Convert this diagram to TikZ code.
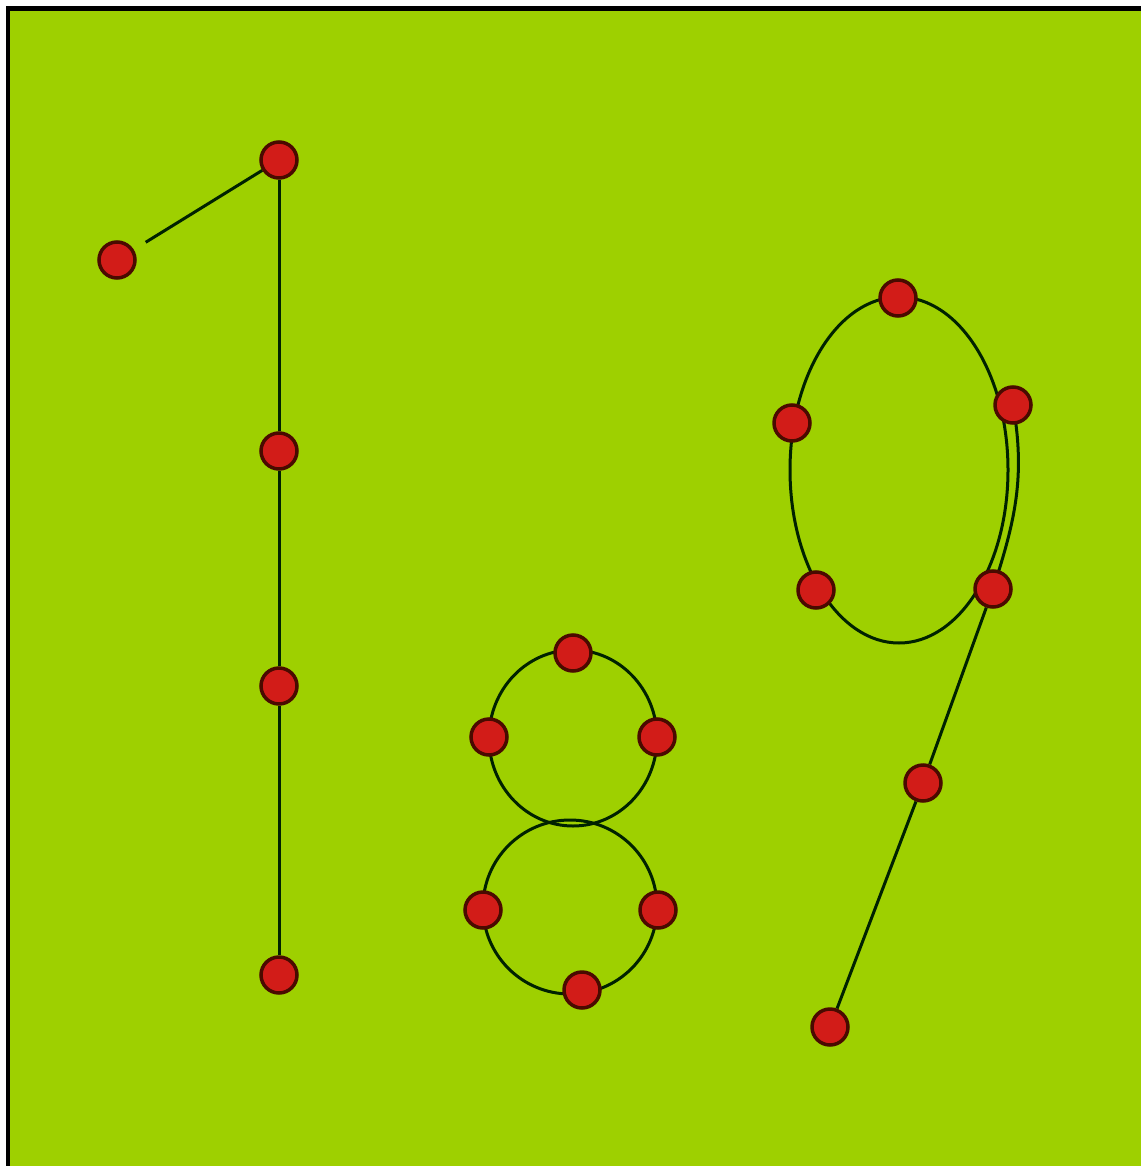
\documentclass[tikz,border=0pt]{standalone}
\definecolor{bggreen}{HTML}{9ED000}
\definecolor{inkline}{HTML}{002200}
\definecolor{dotred}{HTML}{D21C18}
\definecolor{dotrim}{HTML}{4A0A00}
\pgfdeclarelayer{bg}
\pgfdeclarelayer{lines}
\pgfsetlayers{bg,lines,main}
\tikzset{
  dot/.style={circle, fill=dotred, draw=dotrim, line width=3.5pt, minimum size=36pt, inner sep=0pt},
  stroke/.style={draw=inkline, line width=3pt},
}
\begin{document}
\begin{tikzpicture}[x=1pt,y=-1pt]
\useasboundingbox (0,0) rectangle (1141,1166);
% dots: digit 1
\node[dot] (a1) at (117,260) {};
\node[dot] (a2) at (279,160) {};
\node[dot] (a3) at (279,451) {};
\node[dot] (a4) at (279,686) {};
\node[dot] (a5) at (279,975) {};
% digit 8
\coordinate (c8t) at (573,738);
\coordinate (c8b) at (570,907);
\node[dot] (e1) at (573,653) {};
\node[dot] (e2) at (489,737) {};
\node[dot] (e3) at (657,737) {};
\node[dot] (e4) at (483,910) {};
\node[dot] (e5) at (658,910) {};
\node[dot] (e6) at (582,990) {};
% digit 9
\coordinate (c9) at (899,470);
\node[dot] (n1) at (898,298) {};
\node[dot] (n2) at (1013,405) {};
\node[dot] (n3) at (993,589) {};
\node[dot] (n4) at (816,590) {};
\node[dot] (n5) at (792,423) {};
\node[dot] (n6) at (923,783) {};
\node[dot] (n7) at (830,1027) {};
\begin{pgfonlayer}{bg}
  \fill[white] (0,0) rectangle (1141,1166);
  \fill[bggreen] (6,6) rectangle (1141,1166);
  \fill[black] (6,6) rectangle (1141,11);
  \fill[black] (6,6) rectangle (10,1166);
\end{pgfonlayer}
\begin{pgfonlayer}{lines}
  % 1
  \draw[stroke, shorten <=14pt] (a1) -- (a2);
  \draw[stroke] (a2) -- (a3) -- (a4) -- (a5);
  % 8
  \draw[stroke] (c8t) ellipse [x radius=84, y radius=88];
  \draw[stroke] (c8b) ellipse [x radius=87, y radius=87];
  % 9
  \draw[stroke] (c9) ellipse [x radius=109, y radius=173];
  \draw[stroke] (n2.center) to[out=-80,in=72] (n3.center);
  \draw[stroke] (n3) -- (n6) -- (n7);
\end{pgfonlayer}
\end{tikzpicture}
\end{document}
